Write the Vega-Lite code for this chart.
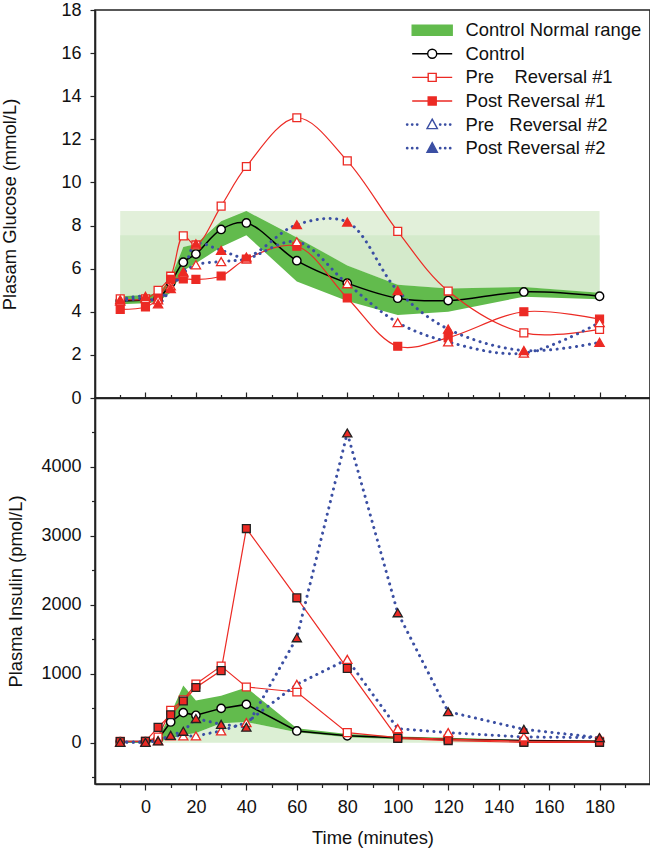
{
  "$schema": "https://vega.github.io/schema/vega-lite/v6.json",
  "background": "white",
  "padding": {"left": 0, "top": 0, "right": 2, "bottom": 0},
  "config": {
    "font": "Liberation Sans",
    "view": {"stroke": "#222222", "strokeWidth": 1.6},
    "axis": {"domainColor": "#222222", "domainWidth": 1.6, "tickColor": "#222222", "tickWidth": 1.2, "labelFont": "Liberation Sans", "labelFontSize": 18, "labelColor": "#111111", "titleFont": "Liberation Sans", "titleFontSize": 18.4, "titleFontWeight": "normal", "titleColor": "#111111", "grid": false, "labelOverlap": false, "labelFlush": false}
  },
  "datasets": {
    "glucose": [
      {"s": "Control", "t": -10, "v": 4.5}, {"s": "Control", "t": 0, "v": 4.55}, {"s": "Control", "t": 5, "v": 4.6}, {"s": "Control", "t": 10, "v": 5.35}, {"s": "Control", "t": 15, "v": 6.3}, {"s": "Control", "t": 20, "v": 6.68}, {"s": "Control", "t": 30, "v": 7.82}, {"s": "Control", "t": 40, "v": 8.12}, {"s": "Control", "t": 60, "v": 6.37}, {"s": "Control", "t": 80, "v": 5.33}, {"s": "Control", "t": 100, "v": 4.63}, {"s": "Control", "t": 120, "v": 4.52}, {"s": "Control", "t": 150, "v": 4.92}, {"s": "Control", "t": 180, "v": 4.72},
      {"s": "Pre Reversal #1", "t": -10, "v": 4.6}, {"s": "Pre Reversal #1", "t": 0, "v": 4.6}, {"s": "Pre Reversal #1", "t": 5, "v": 5.0}, {"s": "Pre Reversal #1", "t": 10, "v": 5.65}, {"s": "Pre Reversal #1", "t": 15, "v": 7.52}, {"s": "Pre Reversal #1", "t": 20, "v": 7.1}, {"s": "Pre Reversal #1", "t": 30, "v": 8.9}, {"s": "Pre Reversal #1", "t": 40, "v": 10.74}, {"s": "Pre Reversal #1", "t": 60, "v": 13.0}, {"s": "Pre Reversal #1", "t": 80, "v": 11.0}, {"s": "Pre Reversal #1", "t": 100, "v": 7.73}, {"s": "Pre Reversal #1", "t": 120, "v": 4.96}, {"s": "Pre Reversal #1", "t": 150, "v": 3.02}, {"s": "Pre Reversal #1", "t": 180, "v": 3.18},
      {"s": "Post Reversal #1", "t": -10, "v": 4.11}, {"s": "Post Reversal #1", "t": 0, "v": 4.22}, {"s": "Post Reversal #1", "t": 5, "v": 4.6}, {"s": "Post Reversal #1", "t": 10, "v": 5.5}, {"s": "Post Reversal #1", "t": 15, "v": 5.53}, {"s": "Post Reversal #1", "t": 20, "v": 5.5}, {"s": "Post Reversal #1", "t": 30, "v": 5.66}, {"s": "Post Reversal #1", "t": 40, "v": 6.45}, {"s": "Post Reversal #1", "t": 60, "v": 7.04}, {"s": "Post Reversal #1", "t": 80, "v": 4.64}, {"s": "Post Reversal #1", "t": 100, "v": 2.4}, {"s": "Post Reversal #1", "t": 120, "v": 2.8}, {"s": "Post Reversal #1", "t": 150, "v": 4.0}, {"s": "Post Reversal #1", "t": 180, "v": 3.66},
      {"s": "Pre Reversal #2", "t": -10, "v": 4.5}, {"s": "Pre Reversal #2", "t": 0, "v": 4.62}, {"s": "Pre Reversal #2", "t": 5, "v": 4.55}, {"s": "Pre Reversal #2", "t": 10, "v": 5.2}, {"s": "Pre Reversal #2", "t": 15, "v": 5.8}, {"s": "Pre Reversal #2", "t": 20, "v": 6.18}, {"s": "Pre Reversal #2", "t": 30, "v": 6.33}, {"s": "Pre Reversal #2", "t": 40, "v": 6.45}, {"s": "Pre Reversal #2", "t": 60, "v": 7.25}, {"s": "Pre Reversal #2", "t": 80, "v": 5.3}, {"s": "Pre Reversal #2", "t": 100, "v": 3.5}, {"s": "Pre Reversal #2", "t": 120, "v": 2.6}, {"s": "Pre Reversal #2", "t": 150, "v": 2.08}, {"s": "Pre Reversal #2", "t": 180, "v": 3.5},
      {"s": "Post Reversal #2", "t": -10, "v": 4.56}, {"s": "Post Reversal #2", "t": 0, "v": 4.72}, {"s": "Post Reversal #2", "t": 5, "v": 4.37}, {"s": "Post Reversal #2", "t": 10, "v": 5.08}, {"s": "Post Reversal #2", "t": 15, "v": 5.85}, {"s": "Post Reversal #2", "t": 20, "v": 7.15}, {"s": "Post Reversal #2", "t": 30, "v": 6.85}, {"s": "Post Reversal #2", "t": 40, "v": 6.54}, {"s": "Post Reversal #2", "t": 60, "v": 8.04}, {"s": "Post Reversal #2", "t": 80, "v": 8.16}, {"s": "Post Reversal #2", "t": 100, "v": 4.98}, {"s": "Post Reversal #2", "t": 120, "v": 3.2}, {"s": "Post Reversal #2", "t": 150, "v": 2.2}, {"s": "Post Reversal #2", "t": 180, "v": 2.58}
    ],
    "insulin": [
      {"s": "Control", "t": -10, "v": 15}, {"s": "Control", "t": 0, "v": 15}, {"s": "Control", "t": 5, "v": 50}, {"s": "Control", "t": 10, "v": 300}, {"s": "Control", "t": 15, "v": 435}, {"s": "Control", "t": 20, "v": 396}, {"s": "Control", "t": 30, "v": 497}, {"s": "Control", "t": 40, "v": 555}, {"s": "Control", "t": 60, "v": 170}, {"s": "Control", "t": 80, "v": 100}, {"s": "Control", "t": 100, "v": 70}, {"s": "Control", "t": 120, "v": 50}, {"s": "Control", "t": 150, "v": 30}, {"s": "Control", "t": 180, "v": 20},
      {"s": "Pre Reversal #1", "t": -10, "v": 20}, {"s": "Pre Reversal #1", "t": 0, "v": 20}, {"s": "Pre Reversal #1", "t": 5, "v": 80}, {"s": "Pre Reversal #1", "t": 10, "v": 470}, {"s": "Pre Reversal #1", "t": 15, "v": 620}, {"s": "Pre Reversal #1", "t": 20, "v": 850}, {"s": "Pre Reversal #1", "t": 30, "v": 1110}, {"s": "Pre Reversal #1", "t": 40, "v": 807}, {"s": "Pre Reversal #1", "t": 60, "v": 735}, {"s": "Pre Reversal #1", "t": 80, "v": 145}, {"s": "Pre Reversal #1", "t": 100, "v": 72}, {"s": "Pre Reversal #1", "t": 120, "v": 50}, {"s": "Pre Reversal #1", "t": 150, "v": 20}, {"s": "Pre Reversal #1", "t": 180, "v": 20},
      {"s": "Post Reversal #1", "t": -10, "v": 15}, {"s": "Post Reversal #1", "t": 0, "v": 20}, {"s": "Post Reversal #1", "t": 5, "v": 222}, {"s": "Post Reversal #1", "t": 10, "v": 405}, {"s": "Post Reversal #1", "t": 15, "v": 604}, {"s": "Post Reversal #1", "t": 20, "v": 800}, {"s": "Post Reversal #1", "t": 30, "v": 1045}, {"s": "Post Reversal #1", "t": 40, "v": 3106}, {"s": "Post Reversal #1", "t": 60, "v": 2101}, {"s": "Post Reversal #1", "t": 80, "v": 1077}, {"s": "Post Reversal #1", "t": 100, "v": 63}, {"s": "Post Reversal #1", "t": 120, "v": 30}, {"s": "Post Reversal #1", "t": 150, "v": 5}, {"s": "Post Reversal #1", "t": 180, "v": 5},
      {"s": "Pre Reversal #2", "t": -10, "v": 10}, {"s": "Pre Reversal #2", "t": 0, "v": 10}, {"s": "Pre Reversal #2", "t": 5, "v": 30}, {"s": "Pre Reversal #2", "t": 10, "v": 100}, {"s": "Pre Reversal #2", "t": 15, "v": 97}, {"s": "Pre Reversal #2", "t": 20, "v": 97}, {"s": "Pre Reversal #2", "t": 30, "v": 170}, {"s": "Pre Reversal #2", "t": 40, "v": 290}, {"s": "Pre Reversal #2", "t": 60, "v": 845}, {"s": "Pre Reversal #2", "t": 80, "v": 1208}, {"s": "Pre Reversal #2", "t": 100, "v": 203}, {"s": "Pre Reversal #2", "t": 120, "v": 145}, {"s": "Pre Reversal #2", "t": 150, "v": 82}, {"s": "Pre Reversal #2", "t": 180, "v": 72},
      {"s": "Post Reversal #2", "t": -10, "v": 5}, {"s": "Post Reversal #2", "t": 0, "v": 5}, {"s": "Post Reversal #2", "t": 5, "v": 25}, {"s": "Post Reversal #2", "t": 10, "v": 106}, {"s": "Post Reversal #2", "t": 15, "v": 165}, {"s": "Post Reversal #2", "t": 20, "v": 350}, {"s": "Post Reversal #2", "t": 30, "v": 266}, {"s": "Post Reversal #2", "t": 40, "v": 225}, {"s": "Post Reversal #2", "t": 60, "v": 1522}, {"s": "Post Reversal #2", "t": 80, "v": 4493}, {"s": "Post Reversal #2", "t": 100, "v": 1884}, {"s": "Post Reversal #2", "t": 120, "v": 449}, {"s": "Post Reversal #2", "t": 150, "v": 193}, {"s": "Post Reversal #2", "t": 180, "v": 72}
    ],
    "gband": [
      {"t": -10, "lo": 4.35, "hi": 4.72}, {"t": 0, "lo": 4.4, "hi": 4.78}, {"t": 5, "lo": 4.45, "hi": 4.85}, {"t": 10, "lo": 4.9, "hi": 5.55}, {"t": 15, "lo": 5.9, "hi": 7.0}, {"t": 20, "lo": 6.25, "hi": 7.15}, {"t": 30, "lo": 7.0, "hi": 8.2}, {"t": 40, "lo": 7.55, "hi": 8.67}, {"t": 60, "lo": 5.4, "hi": 7.45}, {"t": 80, "lo": 4.5, "hi": 6.15}, {"t": 100, "lo": 3.85, "hi": 5.25}, {"t": 120, "lo": 4.0, "hi": 5.08}, {"t": 150, "lo": 4.7, "hi": 5.15}, {"t": 180, "lo": 4.58, "hi": 4.88}
    ],
    "iband": [
      {"t": -10, "lo": 0, "hi": 20}, {"t": 0, "lo": 0, "hi": 25}, {"t": 5, "lo": 10, "hi": 60}, {"t": 10, "lo": 60, "hi": 420}, {"t": 15, "lo": 110, "hi": 830}, {"t": 20, "lo": 140, "hi": 610}, {"t": 30, "lo": 280, "hi": 680}, {"t": 40, "lo": 300, "hi": 800}, {"t": 60, "lo": 150, "hi": 210}, {"t": 80, "lo": 80, "hi": 125}, {"t": 100, "lo": 50, "hi": 90}, {"t": 120, "lo": 35, "hi": 70}, {"t": 150, "lo": 20, "hi": 40}, {"t": 180, "lo": 10, "hi": 30}
    ]
  },
  "spacing": 0,
  "bounds": "flush",
  "resolve": {"scale": {"color": "independent", "fill": "independent", "stroke": "independent"}, "legend": {"color": "independent"}},
  "vconcat": [
    {
      "width": 555,
      "height": 388,
      "encoding": {
        "x": {"field": "t", "type": "quantitative", "scale": {"domain": [-20, 200], "nice": false, "zero": false},
          "axis": {"title": null, "labels": false, "values": [-10, 0, 10, 20, 30, 40, 50, 60, 70, 80, 90, 100, 110, 120, 130, 140, 150, 160, 170, 180, 190],
            "tickSize": {"condition": {"test": "datum.value % 20 === 0 && datum.value >= 0", "value": -6}, "value": -3.5}}}
      },
      "layer": [
        {"data": {"name": "gband"}, "mark": {"type": "area", "color": "#e2f0da", "opacity": 1},
          "encoding": {"y": {"field": "hi", "type": "quantitative", "scale": {"domain": [0, 18], "nice": false, "zero": false},
            "axis": {"title": "Plasam Glucose (mmol/L)", "values": [0, 1, 2, 3, 4, 5, 6, 7, 8, 9, 10, 11, 12, 13, 14, 15, 16, 17, 18], "format": "d",
              "labelExpr": "datum.value % 2 === 0 ? datum.label : ''", "labelPadding": 9, "titlePadding": 41,
              "tickSize": {"condition": {"test": "datum.value % 2 === 0", "value": 5}, "value": 3.5}}},
            "y2": {"datum": 8.67}}},
        {"data": {"name": "gband"}, "mark": {"type": "area", "color": "#d4eacb", "opacity": 1},
          "encoding": {"y": {"field": "hi", "type": "quantitative"}, "y2": {"datum": 7.55}}},
        {"data": {"name": "gband"}, "mark": {"type": "area", "color": "#62bb4d", "opacity": 1},
          "encoding": {"y": {"field": "lo", "type": "quantitative"}, "y2": {"field": "hi"}}},
        {"data": {"name": "glucose"}, "transform": [{"filter": "datum.s === 'Control'"}],
          "mark": {"type": "line", "interpolate": "catmull-rom", "strokeWidth": 1.5},
          "encoding": {"y": {"field": "v", "type": "quantitative"},
            "color": {"field": "s", "type": "nominal",
              "scale": {"domain": ["Control Normal range", "Control", "Pre Reversal #1", "Post Reversal #1", "Pre Reversal #2", "Post Reversal #2"], "range": ["#62bb4d", "#000000", "#ec2a24", "#ec2a24", "#3b4fa3", "#3b4fa3"]},
              "legend": {"title": " ", "titleFontSize": 2, "titlePadding": 1, "orient": "top-right", "offset": 8, "padding": 0, "labelFontSize": 18.4, "labelFont": "Liberation Sans", "labelColor": "#111111", "labelLimit": 400, "symbolSize": 4, "rowPadding": 4.6, "labelOffset": 24,
                "labelExpr": "datum.value === 'Pre Reversal #1' ? 'Pre\u00a0\u00a0\u00a0\u00a0Reversal #1' : datum.value === 'Pre Reversal #2' ? 'Pre\u00a0\u00a0\u00a0Reversal #2' : datum.label",
                "encoding": {"symbols": {
                  "shape": {"value": {"expr": "datum.value === 'Control Normal range' ? 'M-20,-5H20V5H-20Z' : datum.value === 'Control' ? 'M-20,0H-4.5M4.5,0H20M4.5,0A4.5,4.5 0 1,1 -4.5,0A4.5,4.5 0 1,1 4.5,0Z' : indexof(datum.value, '#1') >= 0 ? 'M-20,0H-4M4,0H20M-4,-4H4V4H-4Z' : 'M-24.3,0A0.7,0.7 0 1,1 -25.7,0A0.7,0.7 0 1,1 -24.3,0ZM-19.3,0A0.7,0.7 0 1,1 -20.7,0A0.7,0.7 0 1,1 -19.3,0ZM-14.3,0A0.7,0.7 0 1,1 -15.7,0A0.7,0.7 0 1,1 -14.3,0ZM8.7,0A0.7,0.7 0 1,1 7.3,0A0.7,0.7 0 1,1 8.7,0ZM13.7,0A0.7,0.7 0 1,1 12.3,0A0.7,0.7 0 1,1 13.7,0ZM18.7,0A0.7,0.7 0 1,1 17.3,0A0.7,0.7 0 1,1 18.7,0ZM0,-5.5L5.2,4L-5.2,4Z'"}},
                  "fill": {"value": {"expr": "datum.value === 'Control Normal range' ? '#62bb4d' : datum.value === 'Post Reversal #1' ? '#ec2a24' : datum.value === 'Post Reversal #2' ? '#3b4fa3' : '#ffffff'"}},
                  "stroke": {"value": {"expr": "datum.value === 'Control Normal range' ? '#25401c' : datum.value === 'Control' ? '#000000' : indexof(datum.value, '#1') >= 0 ? '#ec2a24' : '#3b4fa3'"}},
                  "strokeWidth": {"value": 1.4},
                  "opacity": {"value": 1},
                  "fillOpacity": {"value": 1},
                  "strokeDash": {"value": []},
                  "size": {"value": 4}
                }}}}}},
        {"data": {"name": "glucose"}, "transform": [{"filter": "indexof(datum.s, '#1') >= 0"}],
          "mark": {"type": "line", "interpolate": "catmull-rom", "strokeWidth": 1.2},
          "encoding": {"y": {"field": "v", "type": "quantitative"}, "color": {"field": "s", "type": "nominal"}}},
        {"data": {"name": "glucose"}, "transform": [{"filter": "indexof(datum.s, '#2') >= 0"}],
          "mark": {"type": "line", "interpolate": "catmull-rom", "strokeWidth": 3, "strokeDash": [0.1, 6.4], "strokeCap": "round"},
          "encoding": {"y": {"field": "v", "type": "quantitative"}, "color": {"field": "s", "type": "nominal"}}},
        {"data": {"name": "glucose"}, "transform": [{"filter": "datum.s === 'Control'"}],
          "mark": {"type": "point", "shape": "circle", "size": 70, "strokeWidth": 1.4, "opacity": 1, "fill": "#ffffff", "stroke": "#000000", "filled": false},
          "encoding": {"y": {"field": "v", "type": "quantitative"}}},
        {"data": {"name": "glucose"}, "transform": [{"filter": "indexof(datum.s, '#1') >= 0"}],
          "mark": {"type": "point", "shape": "square", "size": 62, "strokeWidth": 1.3, "opacity": 1},
          "encoding": {"y": {"field": "v", "type": "quantitative"},
            "fill": {"field": "s", "type": "nominal", "scale": {"domain": ["Pre Reversal #1", "Post Reversal #1"], "range": ["#ffffff", "#ec2a24"]}, "legend": null},
            "stroke": {"field": "s", "type": "nominal", "scale": {"domain": ["Pre Reversal #1", "Post Reversal #1"], "range": ["#ec2a24", "#ec2a24"]}, "legend": null}}},
        {"data": {"name": "glucose"}, "transform": [{"filter": "indexof(datum.s, '#2') >= 0"}],
          "mark": {"type": "point", "shape": "triangle-up", "size": 85, "strokeWidth": 1.3, "opacity": 1},
          "encoding": {"y": {"field": "v", "type": "quantitative"},
            "fill": {"field": "s", "type": "nominal", "scale": {"domain": ["Pre Reversal #2", "Post Reversal #2"], "range": ["#ffffff", "#3b4fa3"]}, "legend": null},
            "stroke": {"field": "s", "type": "nominal", "scale": {"domain": ["Pre Reversal #2", "Post Reversal #2"], "range": ["#3b4fa3", "#3b4fa3"]}, "legend": null}}}
      ]
    },
    {
      "width": 555,
      "height": 386,
      "resolve": {"axis": {"y": "independent"}},
      "encoding": {
        "x": {"field": "t", "type": "quantitative", "scale": {"domain": [-20, 200], "nice": false, "zero": false},
          "axis": {"title": "Time (minutes)", "format": "d", "values": [-10, 0, 10, 20, 30, 40, 50, 60, 70, 80, 90, 100, 110, 120, 130, 140, 150, 160, 170, 180, 190],
            "labelExpr": "datum.value % 20 === 0 && datum.value >= 0 && datum.value <= 180 ? datum.label : ''",
            "labelPadding": 8, "titlePadding": 12,
            "tickSize": {"condition": {"test": "datum.value % 20 === 0 && datum.value >= 0", "value": 6}, "value": 3.5}}}
      },
      "layer": [
        {"data": {"name": "iband"}, "mark": {"type": "area", "color": "#dcefd4", "opacity": 1},
          "encoding": {"y": {"field": "lo", "type": "quantitative", "scale": {"domain": [-600, 5000], "nice": false, "zero": false},
            "axis": {"title": "Plasma Insulin (pmol/L)", "orient": "left", "format": "d", "values": [0, 1000, 2000, 3000, 4000],
              "labelPadding": 9, "titlePadding": 15, "tickSize": 5}},
            "y2": {"datum": 0}}},
        {"data": {"name": "iband"}, "mark": {"type": "area", "color": "#62bb4d", "opacity": 1},
          "encoding": {"y": {"field": "lo", "type": "quantitative", "axis": {"orient": "left", "title": null, "labels": false, "domain": false, "values": [-500, 500, 1500, 2500, 3500, 4500], "tickSize": 3.5}}, "y2": {"field": "hi"}}},
        {"data": {"name": "insulin"}, "transform": [{"filter": "datum.s === 'Control'"}],
          "mark": {"type": "line", "strokeWidth": 1.5, "color": "#000000"},
          "encoding": {"y": {"field": "v", "type": "quantitative", "axis": null}}},
        {"data": {"name": "insulin"}, "transform": [{"filter": "indexof(datum.s, '#1') >= 0"}],
          "mark": {"type": "line", "strokeWidth": 1.2, "color": "#ec2a24"},
          "encoding": {"y": {"field": "v", "type": "quantitative", "axis": null}, "detail": {"field": "s", "type": "nominal"}}},
        {"data": {"name": "insulin"}, "transform": [{"filter": "indexof(datum.s, '#2') >= 0"}],
          "mark": {"type": "line", "strokeWidth": 3, "strokeDash": [0.1, 6.4], "strokeCap": "round", "color": "#3b4fa3"},
          "encoding": {"y": {"field": "v", "type": "quantitative", "axis": null}, "detail": {"field": "s", "type": "nominal"}}},
        {"data": {"name": "insulin"}, "transform": [{"filter": "datum.s === 'Control'"}],
          "mark": {"type": "point", "shape": "circle", "size": 70, "strokeWidth": 1.4, "opacity": 1, "fill": "#ffffff", "stroke": "#000000", "filled": false},
          "encoding": {"y": {"field": "v", "type": "quantitative", "axis": null}}},
        {"data": {"name": "insulin"}, "transform": [{"filter": "indexof(datum.s, '#1') >= 0"}],
          "mark": {"type": "point", "shape": "square", "size": 62, "strokeWidth": 1.3, "opacity": 1},
          "encoding": {"y": {"field": "v", "type": "quantitative", "axis": null},
            "fill": {"field": "s", "type": "nominal", "scale": {"domain": ["Pre Reversal #1", "Post Reversal #1"], "range": ["#ffffff", "#ec2a24"]}, "legend": null},
            "stroke": {"field": "s", "type": "nominal", "scale": {"domain": ["Pre Reversal #1", "Post Reversal #1"], "range": ["#ec2a24", "#222222"]}, "legend": null}}},
        {"data": {"name": "insulin"}, "transform": [{"filter": "indexof(datum.s, '#2') >= 0"}],
          "mark": {"type": "point", "shape": "triangle-up", "size": 85, "strokeWidth": 1.3, "opacity": 1},
          "encoding": {"y": {"field": "v", "type": "quantitative", "axis": null},
            "fill": {"field": "s", "type": "nominal", "scale": {"domain": ["Pre Reversal #2", "Post Reversal #2"], "range": ["#ffffff", "#3b4fa3"]}, "legend": null},
            "stroke": {"field": "s", "type": "nominal", "scale": {"domain": ["Pre Reversal #2", "Post Reversal #2"], "range": ["#3b4fa3", "#3b4fa3"]}, "legend": null}}}
      ]
    }
  ]
}
